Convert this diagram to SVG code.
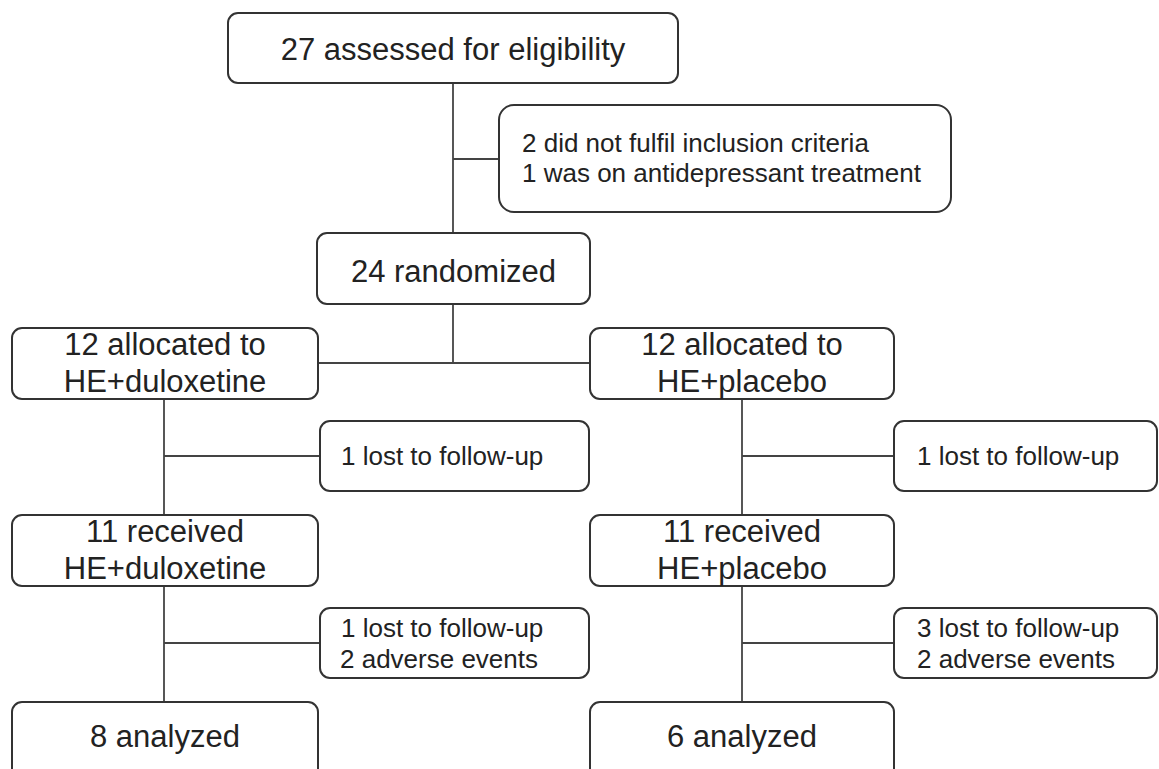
<svg xmlns="http://www.w3.org/2000/svg" width="1159" height="769" viewBox="0 0 1159 769">
<style>
.box{fill:#fff;stroke:#333;stroke-width:2}
.conn line{stroke:#444;stroke-width:1.8}
text{font-family:"Liberation Sans",Arial,sans-serif;fill:#222}
.big{font-size:31px;text-anchor:middle}
.small{font-size:26px}
</style>
<rect width="1159" height="769" fill="#fff"/>
<g class="conn" id="connectors">
<line x1="453" y1="83" x2="453" y2="233"/>
<line x1="453" y1="159" x2="499" y2="159"/>
<line x1="453" y1="304" x2="453" y2="363"/>
<line x1="318" y1="363" x2="590" y2="363"/>
<line x1="164" y1="399" x2="164" y2="515"/>
<line x1="164" y1="456" x2="320" y2="456"/>
<line x1="742" y1="399" x2="742" y2="515"/>
<line x1="742" y1="456" x2="894" y2="456"/>
<line x1="164" y1="587" x2="164" y2="702"/>
<line x1="164" y1="643" x2="320" y2="643"/>
<line x1="742" y1="587" x2="742" y2="702"/>
<line x1="742" y1="643" x2="894" y2="643"/>
</g>
<g id="assessed">
<rect class="box" x="228" y="13" width="450" height="70" rx="10"/>
<text class="big" x="453" y="60">27 assessed for eligibility</text>
</g>
<g id="excluded">
<rect class="box" x="499" y="105" width="452" height="107" rx="15"/>
<text class="small" x="522" y="152">2 did not fulfil inclusion criteria</text>
<text class="small" x="522" y="182">1 was on antidepressant treatment</text>
</g>
<g id="randomized">
<rect class="box" x="317" y="233" width="273" height="71" rx="10"/>
<text class="big" x="453.5" y="282">24 randomized</text>
</g>
<g id="alloc-dulox">
<rect class="box" x="12" y="328" width="306" height="71" rx="10"/>
<text class="big" x="165" y="355">12 allocated to</text>
<text class="big" x="165" y="392">HE+duloxetine</text>
</g>
<g id="alloc-placebo">
<rect class="box" x="590" y="328" width="304" height="71" rx="10"/>
<text class="big" x="742" y="355">12 allocated to</text>
<text class="big" x="742" y="392">HE+placebo</text>
</g>
<g id="lost-dulox-1">
<rect class="box" x="320" y="421" width="269" height="70" rx="10"/>
<text class="small" x="341" y="465">1 lost to follow-up</text>
</g>
<g id="lost-placebo-1">
<rect class="box" x="894" y="421" width="263" height="70" rx="10"/>
<text class="small" x="917" y="465">1 lost to follow-up</text>
</g>
<g id="recv-dulox">
<rect class="box" x="12" y="515" width="306" height="71" rx="10"/>
<text class="big" x="165" y="542">11 received</text>
<text class="big" x="165" y="579">HE+duloxetine</text>
</g>
<g id="recv-placebo">
<rect class="box" x="590" y="515" width="304" height="71" rx="10"/>
<text class="big" x="742" y="542">11 received</text>
<text class="big" x="742" y="579">HE+placebo</text>
</g>
<g id="lost-dulox-2">
<rect class="box" x="320" y="608" width="269" height="70" rx="10"/>
<text class="small" x="341" y="637">1 lost to follow-up</text>
<text class="small" x="340" y="668">2 adverse events</text>
</g>
<g id="lost-placebo-2">
<rect class="box" x="894" y="608" width="263" height="70" rx="10"/>
<text class="small" x="917" y="637">3 lost to follow-up</text>
<text class="small" x="917" y="668">2 adverse events</text>
</g>
<g id="analyzed-dulox">
<rect class="box" x="12" y="702" width="306" height="80" rx="10"/>
<text class="big" x="165" y="747">8 analyzed</text>
</g>
<g id="analyzed-placebo">
<rect class="box" x="590" y="702" width="304" height="80" rx="10"/>
<text class="big" x="742" y="747">6 analyzed</text>
</g>
</svg>
